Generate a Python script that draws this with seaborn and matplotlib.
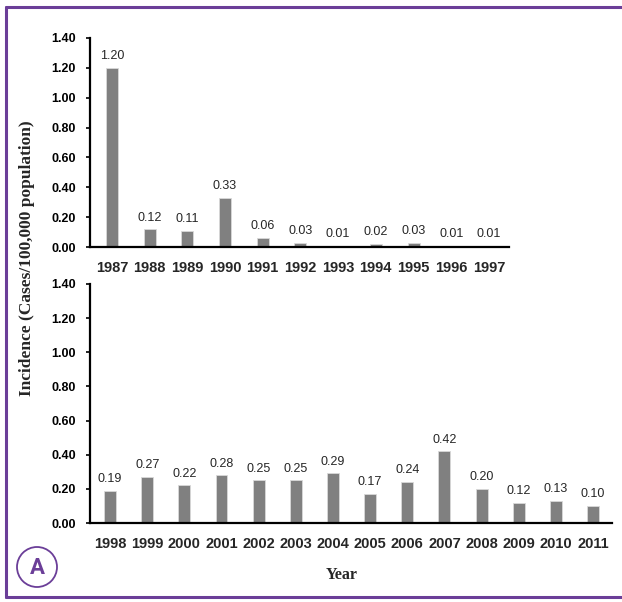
import matplotlib
matplotlib.use("Agg")
import matplotlib.pyplot as plt
from matplotlib.patches import Circle
from matplotlib.lines import Line2D
import pandas as pd
import seaborn as sns

# Incidence per 100,000 population, by year
years_early = ["1987", "1988", "1989", "1990", "1991", "1992",
               "1993", "1994", "1995", "1996", "1997"]
incidence_early = [1.20, 0.12, 0.11, 0.33, 0.06, 0.03,
                   0.01, 0.02, 0.03, 0.01, 0.01]

years_late = ["1998", "1999", "2000", "2001", "2002", "2003", "2004",
              "2005", "2006", "2007", "2008", "2009", "2010", "2011"]
incidence_late = [0.19, 0.27, 0.22, 0.28, 0.25, 0.25, 0.29,
                  0.17, 0.24, 0.42, 0.20, 0.12, 0.13, 0.10]

y_ticks = [0.0, 0.2, 0.4, 0.6, 0.8, 1.0, 1.2, 1.4]

sns.set_style("white")
plt.rcParams["font.family"] = ["Liberation Sans", "DejaVu Sans"]

purple = "#6B3E98"
bar_color = "#808080"

fig = plt.figure(figsize=(6.22, 6.02), dpi=100)
ax_top = fig.add_axes([90 / 622, 1 - 247 / 602, 419 / 622, 209 / 602])
ax_bot = fig.add_axes([90 / 622, 1 - 523 / 602, 522 / 622, 239 / 602])


def draw_panel(ax, years, values, xlim):
    df = pd.DataFrame({"Year": years, "Incidence": values})
    sns.barplot(data=df, x="Year", y="Incidence", ax=ax, color=bar_color,
                width=0.32, saturation=1, edgecolor="#d9d9d9", linewidth=0.6)
    for patch, v in zip(ax.patches, values):
        ax.annotate(f"{v:.2f}", (patch.get_x() + patch.get_width() / 2, v),
                    xytext=(0, 4), textcoords="offset points",
                    ha="center", va="bottom", fontsize=9, color="#262626")
    ax.set_ylim(0, 1.4)
    ax.set_xlim(*xlim)
    ax.set_yticks(y_ticks)
    ax.set_yticklabels([f"{t:.2f}" for t in y_ticks], fontsize=9,
                       fontweight="bold")
    for lab in ax.get_xticklabels():
        lab.set_fontsize(10.5)
        lab.set_fontweight("bold")
    ax.set_xlabel("")
    ax.set_ylabel("")
    ax.tick_params(axis="y", direction="out", length=3, width=1.2,
                   left=True, pad=7, colors="black")
    ax.tick_params(axis="x", length=0, pad=10)
    sns.despine(ax=ax)
    for side in ("left", "bottom"):
        ax.spines[side].set_color("black")
        ax.spines[side].set_linewidth(1.6)


draw_panel(ax_top, years_early, incidence_early, (-0.58, 10.53))
draw_panel(ax_bot, years_late, incidence_late, (-0.54, 13.51))

fig.text(27 / 622, 1 - 258 / 602, "Incidence (Cases/100,000 population)",
         rotation=90, ha="center", va="center", fontsize=12.5,
         fontweight="bold", family=["Liberation Serif", "DejaVu Serif"])
fig.text(342 / 622, 1 - 575 / 602, "Year", ha="center", va="center",
         fontsize=11.5, fontweight="bold",
         family=["Liberation Serif", "DejaVu Serif"])

# Panel frame: left, top and bottom edges
for xs, ys in (([6 / 622, 6 / 622], [1 - 7 / 602, 1 - 597 / 602]),
               ([6 / 622, 1.0], [1 - 7 / 602, 1 - 7 / 602]),
               ([6 / 622, 1.0], [1 - 597 / 602, 1 - 597 / 602])):
    fig.add_artist(Line2D(xs, ys, color=purple, linewidth=2.2,
                          transform=fig.transFigure))

# Panel letter badge
badge = Circle((37, 602 - 567), 20, transform=None, fill=False,
               edgecolor=purple, linewidth=1.3)
fig.add_artist(badge)
fig.text(37 / 622, 1 - 568 / 602, "A", ha="center", va="center",
         fontsize=16, fontweight="bold", color=purple, fontstretch="condensed",
         family=["Roboto", "DejaVu Sans"])

fig.savefig("out.png", dpi=100)
